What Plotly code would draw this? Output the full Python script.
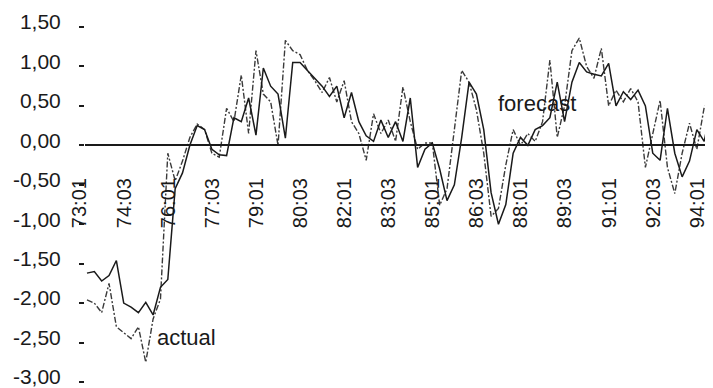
import plotly.graph_objects as go

years = list(range(73, 95))
quarters = ["01", "02", "03", "04"]
periods = [f"{y}:{q}" for y in years for q in quarters][:86]  # 73:01 .. 94:02

actual = [
    -1.96, -2.00, -2.12, -1.75, -2.30, -2.38, -2.45, -2.30, -2.75, -2.20,
    -1.95, -0.10, -0.45, -0.20, 0.10, 0.27, 0.20, -0.10, -0.15, 0.47,
    0.30, 0.89, 0.15, 1.20, 0.65, 0.55, 0.00, 1.33, 1.20, 1.15,
    0.95, 0.82, 0.67, 0.86, 0.55, 0.82, 0.30, 0.15, -0.19, 0.40,
    0.15, 0.32, 0.05, 0.74, 0.30, -0.05, 0.03, 0.03, -0.76, -0.55,
    0.20, 0.95, 0.80, 0.45, -0.10, -0.90, -0.80, -0.25, 0.20, 0.00,
    0.15, 0.05, 0.30, 1.08, 0.10, 0.50, 1.20, 1.36, 1.00, 0.85,
    1.23, 0.50, 0.70, 0.55, 0.72, 0.55, -0.28, 0.13, 0.57, -0.28,
    -0.61, -0.10, 0.28, -0.05, 0.48, 0.60,
]

forecast = [
    -1.62, -1.60, -1.72, -1.65, -1.46, -2.00, -2.05, -2.12, -1.99, -2.15,
    -1.80, -1.70, -0.55, -0.35, 0.00, 0.25, 0.20, -0.05, -0.12, -0.13,
    0.35, 0.30, 0.60, 0.13, 0.98, 0.75, 0.65, 0.09, 1.05, 1.05,
    0.95, 0.85, 0.75, 0.62, 0.75, 0.35, 0.67, 0.30, 0.12, 0.05,
    0.32, 0.10, 0.30, 0.05, 0.60, -0.28, -0.05, 0.03, -0.30, -0.70,
    -0.50, 0.10, 0.80, 0.65, 0.20, -0.60, -1.00, -0.75, -0.10, 0.10,
    0.00, 0.20, 0.25, 0.35, 0.80, 0.30, 0.80, 1.05, 0.93, 0.90,
    0.88, 1.04, 0.50, 0.68, 0.58, 0.70, 0.50, -0.10, -0.19, 0.47,
    -0.10, -0.40, -0.20, 0.20, 0.05, 0.50,
]

x_ticks = ["73:01", "74:03", "76:01", "77:03", "79:01", "80:03", "82:01", "83:03",
           "85:01", "86:03", "88:01", "89:03", "91:01", "92:03", "94:01"]
y_tickvals = [1.5, 1.0, 0.5, 0.0, -0.5, -1.0, -1.5, -2.0, -2.5, -3.0]
y_ticktext = ["1,50", "1,00", "0,50", "0,00", "-0,50", "-1,00", "-1,50", "-2,00", "-2,50", "-3,00"]

FONT = "Liberation Sans, Arial, sans-serif"
INK = "#1a1a1a"

fig = go.Figure()
fig.add_trace(go.Scatter(
    x=periods, y=actual, mode="lines", name="actual",
    line=dict(color="#3a3a3a", width=1.4, dash="6px,2px,2px,2px"),
))
fig.add_trace(go.Scatter(
    x=periods, y=forecast, mode="lines", name="forecast",
    line=dict(color=INK, width=1.5),
))

fig.add_annotation(x=9.3, y=-2.43, text="actual", showarrow=False,
                   xanchor="left", yanchor="middle",
                   font=dict(family=FONT, size=22, color=INK))
fig.add_annotation(x=55.7, y=0.53, text="forecast", showarrow=False,
                   xanchor="left", yanchor="middle",
                   font=dict(family=FONT, size=22, color=INK))

# the page body adds an 8px margin on the top and left; the figure is sized to fit
fig.update_layout(
    width=705, height=380,
    margin=dict(l=77, r=0, t=19, b=6, autoexpand=False),
    paper_bgcolor="white", plot_bgcolor="white",
    showlegend=False,
    font=dict(family=FONT, color=INK),
    xaxis=dict(
        type="category",
        categoryorder="array", categoryarray=periods,
        range=[-0.27, 85.2],
        tickmode="array", tickvals=x_ticks, ticktext=x_ticks,
        tickangle=-90,
        tickfont=dict(family=FONT, size=20, color=INK),
        ticks="", ticklabelstandoff=24, ticklabelshift=-7,
        showgrid=False, zeroline=False, automargin=False,
        showline=True, linecolor=INK, linewidth=1.5,
        anchor="free", position=3.0 / 4.5,
    ),
    yaxis=dict(
        range=[-3.0, 1.5],
        tickmode="array", tickvals=y_tickvals, ticktext=y_ticktext,
        tickfont=dict(family=FONT, size=21, color=INK),
        ticks="outside", ticklen=5, tickcolor=INK, tickwidth=1.5,
        ticklabelstandoff=14, ticklabelshift=-5, ticklabeloverflow="allow",
        showgrid=False, zeroline=False, showline=False, automargin=False,
    ),
)

fig.write_html("out.html")
